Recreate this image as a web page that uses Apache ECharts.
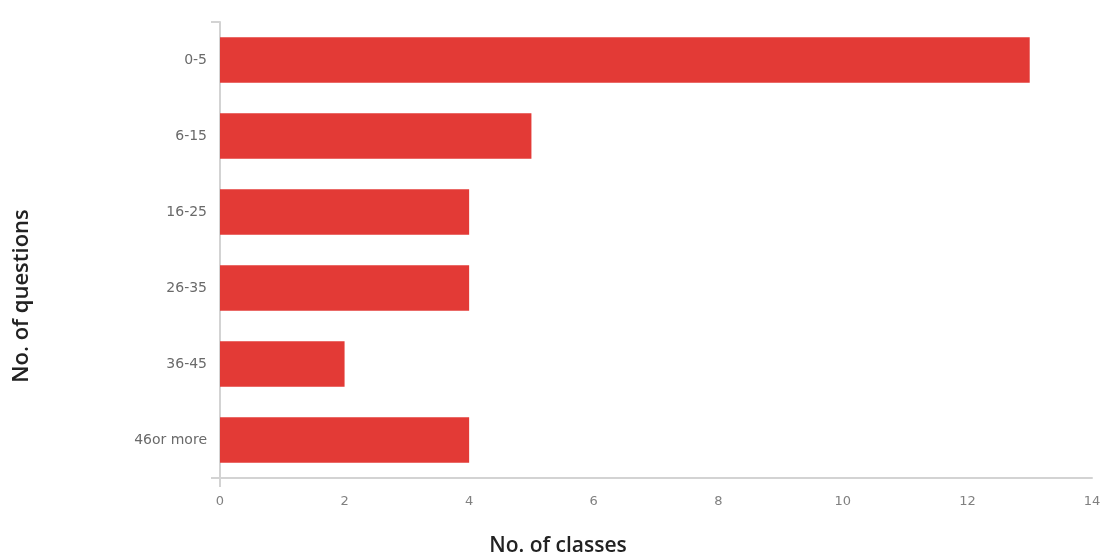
<!DOCTYPE html>
<html><head><meta charset="utf-8">
<script src="https://cdn.jsdelivr.net/npm/echarts@6/dist/echarts.min.js"></script>
<style>html,body{margin:0;padding:0;background:#fff}#c{width:1104px;height:560px}</style>
</head><body><div id="c"></div>
<script>
const categories = ['0-5', '6-15', '16-25', '26-35', '36-45', '46or more'];
const classCounts = [13, 5, 4, 4, 2, 4];
const xTitle = 'No. of classes';
const yTitle = 'No. of questions';

const chart = echarts.init(document.getElementById('c'));
const axisColor = '#d3d3d3';
const titleStyle = { fontFamily: 'Open Sans', fontSize: 21, fontWeight: 600, fill: '#222', align: 'center', verticalAlign: 'middle' };
chart.setOption({
  animation: false,
  grid: { left: 220, right: 12, top: 22, bottom: 82 },
  xAxis: {
    type: 'value', min: 0, max: 14, interval: 2,
    axisLine: { show: true, lineStyle: { color: axisColor, width: 2 } },
    axisTick: { show: false },
    splitLine: { show: false },
    axisLabel: { color: '#808080', fontFamily: 'DejaVu Sans', fontSize: 13, margin: 17 }
  },
  yAxis: {
    type: 'category', data: categories, inverse: true,
    axisLine: { show: true, lineStyle: { color: axisColor, width: 2 } },
    axisTick: { show: true, length: 9, interval: (i) => i === 0, lineStyle: { color: axisColor, width: 2 } },
    axisLabel: { color: '#6a6a6a', fontFamily: 'DejaVu Sans', fontSize: 14, margin: 13 }
  },
  series: [{
    type: 'bar', data: classCounts, barWidth: '60%',
    itemStyle: { color: '#e33a36' }
  }],
  graphic: [
    { id: 'xt', type: 'text', x: 558, y: 546, style: Object.assign({ text: xTitle }, titleStyle) },
    { id: 'yt', type: 'text', x: 22, y: 296, rotation: Math.PI / 2, style: Object.assign({ text: yTitle }, titleStyle, { fontSize: 22 }) }
  ]
});
// small axis extensions at the origin, placed through the chart's own scales
const o = chart.convertToPixel({ gridIndex: 0 }, [0, 0]);
const rect = chart.getModel().getComponent('grid').coordinateSystem.getRect();
const ox = o[0], oy = rect.y + rect.height;
chart.setOption({
  graphic: [
    { id: 'ext1', type: 'line', shape: { x1: ox - 9, y1: oy, x2: ox, y2: oy }, style: { stroke: axisColor, lineWidth: 2 } },
    { id: 'ext2', type: 'line', shape: { x1: ox, y1: oy, x2: ox, y2: oy + 9 }, style: { stroke: axisColor, lineWidth: 2 } }
  ]
});
</script></body></html>
